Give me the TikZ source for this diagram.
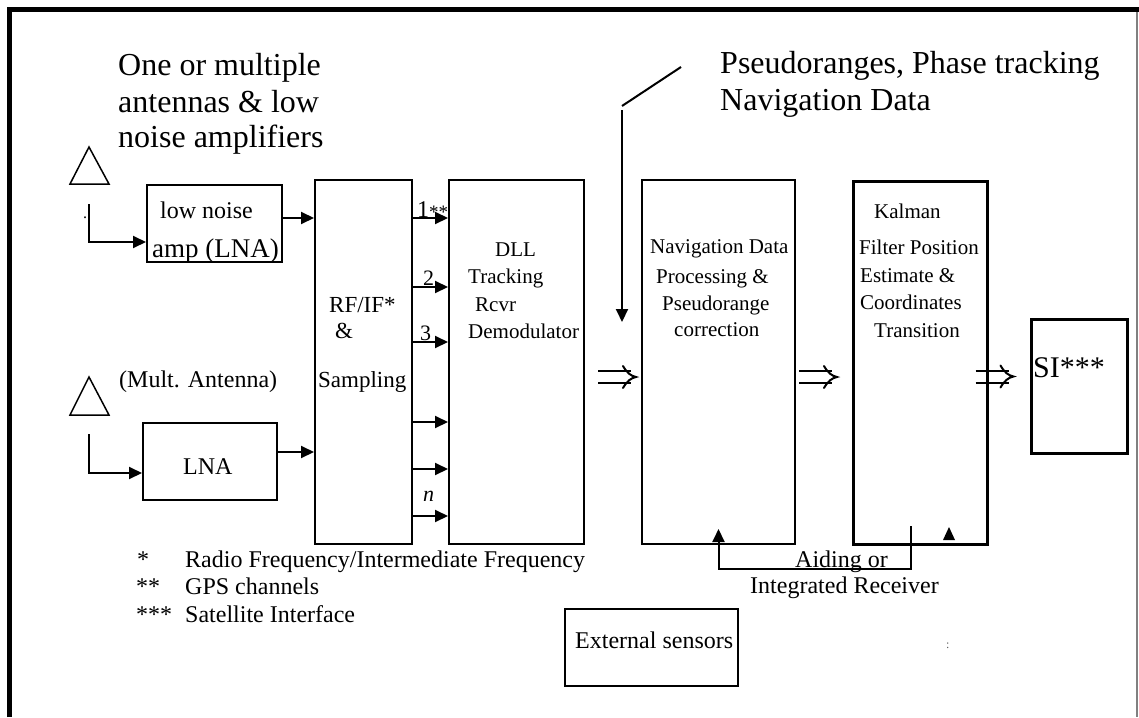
\documentclass[tikz,border=0pt]{standalone}
\usepackage{fontspec}
\setmainfont{Liberation Serif}
\usetikzlibrary{arrows.meta,calc}

\tikzset{
  dblarrow/.pic={
    \draw[line width=2pt] (0,-6) -- (33,-6) (0,6) -- (33,6);
    \draw[line width=2pt, line cap=round]
      (25,-11) .. controls (29,-4) and (33,-1) .. (38,0)
               .. controls (33,1) and (29,4) .. (25,11);
  }
}

\begin{document}
\begin{tikzpicture}[x=1pt,y=-1pt,
  box/.style={draw, line width=2pt, inner sep=0pt},
  heavybox/.style={box, line width=3pt},
  lightbox/.style={box, line width=1.3pt},
  arr/.style={line width=2pt, -{Triangle[length=13pt,width=12pt]}},
  txt/.style={anchor=base west, inner sep=0pt, font=\fontsize{21}{25}\selectfont},
  mid/.style={txt, font=\fontsize{24}{28}\selectfont},
  big/.style={txt, font=\fontsize{32}{36}\selectfont},
]
\useasboundingbox (0,0) rectangle (1139,717);

% frame
\draw[line width=5pt] (9.5,717) -- (9.5,9.5) -- (1139,9.5);
\draw[gray, line width=1.5pt] (1137,12) -- (1137,717);

% headings
\node[big] (h1) at (118,75) {One or multiple};
\node[big] (h2) at (118,112) {antennas \& low};
\node[big] (h3) at (118,147) {noise amplifiers};
\node[big] (h4) at (720,73) {Pseudoranges, Phase tracking};
\node[big] (h5) at (720,110) {Navigation Data};

% antennas
\draw[line width=1.5pt] (89,147) -- (109,184) -- (70,184) -- cycle;
\draw[line width=1.5pt] (89,377) -- (109,415) -- (70,415) -- cycle;
\node[txt, font=\fontsize{16}{18}\selectfont] (dot) at (83,218) {.};
\node[mid] (mult) at (119,387) {(Mult. Antenna)};

% blocks
\node[box, minimum width=135pt, minimum height=77pt] (lna1) at (214.5,223.5) {};
\node[box, minimum width=134pt, minimum height=77pt] (lna2) at (210,461.5) {};
\node[box, minimum width=97pt, minimum height=364pt] (rf) at (363.5,362) {};
\node[box, minimum width=135pt, minimum height=364pt] (dll) at (516.5,362) {};
\node[box, minimum width=153pt, minimum height=364pt] (nav) at (718.5,362) {};
\node[heavybox, minimum width=134pt, minimum height=363pt] (kal) at (920,362.5) {};
\node[heavybox, minimum width=96pt, minimum height=134pt] (si) at (1079,386) {};
\node[lightbox, minimum width=173pt, minimum height=77pt] (ext) at (651.5,647.5) {};

% block texts
\node[txt, font=\fontsize{24}{28}\selectfont] (l1a) at (160,218) {low noise};
\node[txt, font=\fontsize{27}{30}\selectfont] (l1b) at (152,257) {amp (LNA)};
\node[mid] (l2) at (183,474) {LNA};

\node[txt, font=\fontsize{23}{27}\selectfont] (rf1) at (329,312) {RF/IF*};
\node[txt, font=\fontsize{23}{27}\selectfont] (rf2) at (335,338) {\&};
\node[txt, font=\fontsize{23}{27}\selectfont] (rf3) at (318,387) {Sampling};

\node[txt] (d1) at (495,256) {DLL};
\node[txt] (d2) at (468,283) {Tracking};
\node[txt] (d3) at (475,311) {Rcvr};
\node[txt] (d4) at (468,338) {Demodulator};

\node[txt] (n1) at (650,253) {Navigation Data};
\node[txt] (n2) at (656,283) {Processing \&};
\node[txt] (n3) at (662,310) {Pseudorange};
\node[txt] (n4) at (674,336) {correction};

\node[txt] (k1) at (874,218) {Kalman};
\node[txt] (k2) at (859,254) {Filter Position};
\node[txt] (k3) at (860,282) {Estimate \&};
\node[txt] (k4) at (860,309) {Coordinates};
\node[txt] (k5) at (874,337) {Transition};

\node[txt, font=\fontsize{30}{34}\selectfont] (s1) at (1033,377) {SI***};
\node[mid] (e1) at (575,648) {External sensors};

% antenna feeds and amplifier outputs
\coordinate (feed1) at (89,204);
\coordinate (feed2) at (89,434);
\draw[arr] (feed1) |- (lna1.west |- 0,242);
\draw[arr] (feed2) |- (lna2.west |- 0,473);
\draw[arr] (lna1.east |- 0,218) -- (rf.west |- 0,218);
\draw[arr] (lna2.east |- 0,452) -- (rf.west |- 0,452);

% channels
\foreach \y in {218,287,342,422,469,516}
  \draw[arr] (rf.east |- 0,\y) -- (dll.west |- 0,\y);
\node[txt, font=\fontsize{24}{28}\selectfont] (c1) at (417,217) {1};
\node[txt, font=\fontsize{19}{22}\selectfont] (c1s) at (429,218) {**};
\node[txt, font=\fontsize{22}{26}\selectfont] (c2) at (423,285) {2};
\node[txt, font=\fontsize{22}{26}\selectfont] (c3) at (420,340) {3};
\node[txt, font=\fontsize{22}{26}\selectfont] (cn) at (423,501) {\itshape n};

% data flow between stages
\pic at ($(dll.east)+(13,15)$) {dblarrow};
\pic at ($(nav.east)+(3,15)$) {dblarrow};
\pic at ($(kal.east)+(-13,14)$) {dblarrow};

% observables entering the navigation stage
\coordinate (obsA) at (681,67);
\coordinate (obsB) at (622,106);
\coordinate (obsC) at (622,110);
\coordinate (obsD) at (622,322);
\draw[line width=2pt] (obsA) -- (obsB);
\draw[arr] (obsC) -- (obsD);

% aiding loop
\coordinate (aidtop) at (911,526);
\draw[arr] (aidtop) |- ([yshift=-24pt]nav.south) -- ([yshift=16pt]nav.south);
\fill (943,540) -- (955,540) -- (949,527) -- cycle;
\node[mid] (a1) at (795,567) {Aiding or};
\node[mid] (a2) at (750,593) {Integrated Receiver};

% notes
\node[mid] (f1) at (137,567) {*};
\node[mid] (f1t) at (185,567) {Radio Frequency/Intermediate Frequency};
\node[mid] (f2) at (136,594) {**};
\node[mid] (f2t) at (185,594) {GPS channels};
\node[mid] (f3) at (136,622) {***};
\node[mid] (f3t) at (185,622) {Satellite Interface};

\node[txt, font=\fontsize{12}{14}\selectfont, text=gray!70!black] (colon) at (946,648) {:};
\end{tikzpicture}
\end{document}
